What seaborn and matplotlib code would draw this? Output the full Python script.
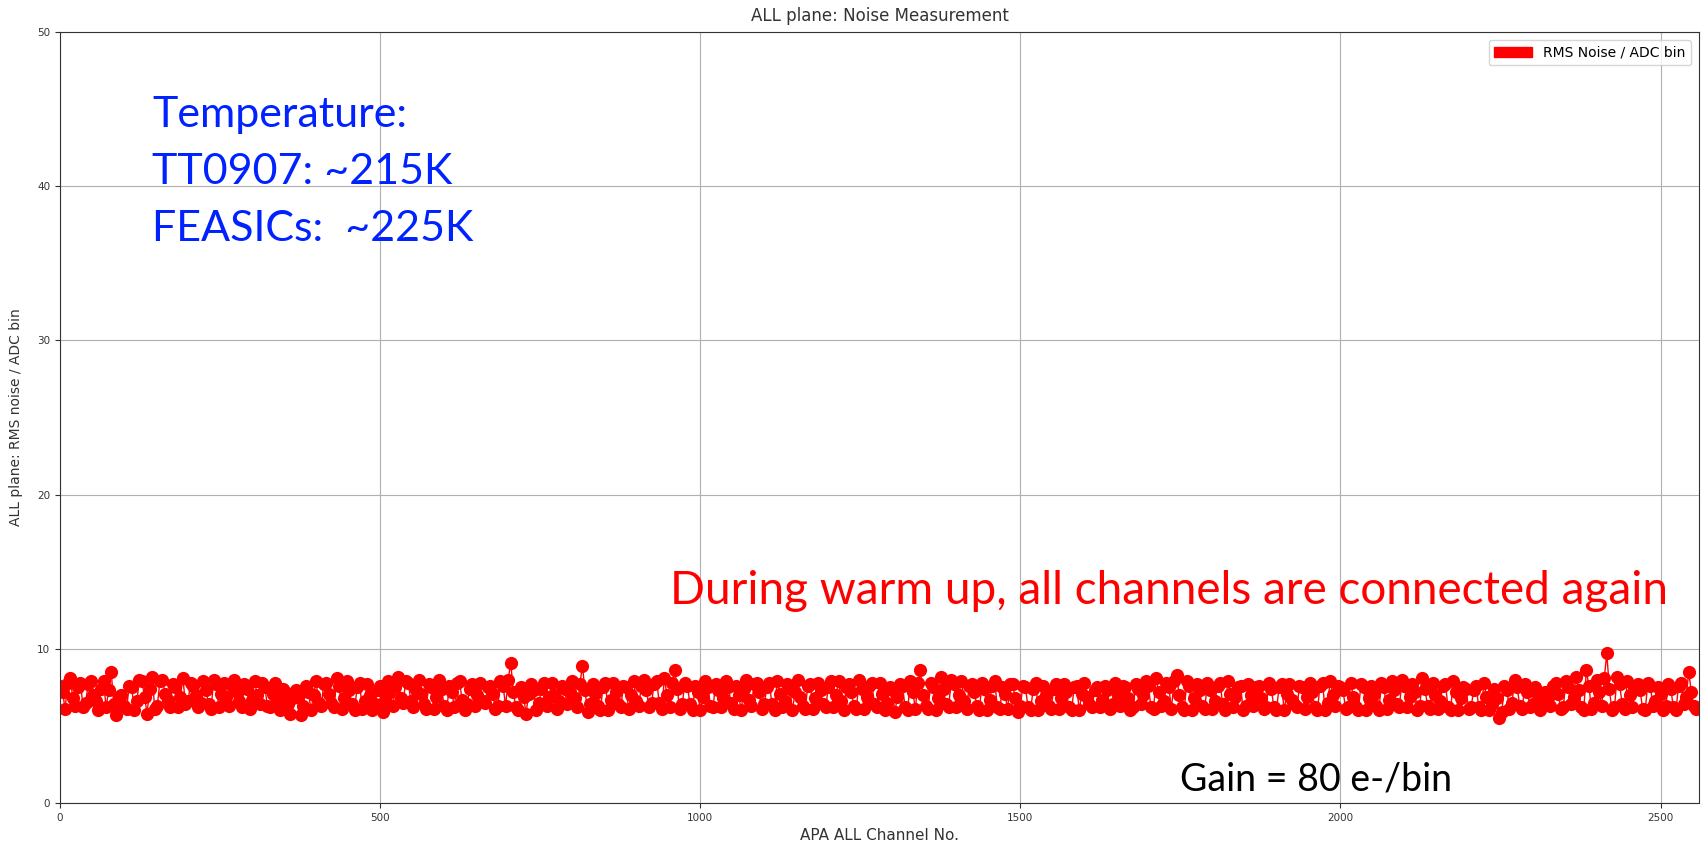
import matplotlib
matplotlib.use('Agg')
from matplotlib import pyplot as plt
from matplotlib.patches import Patch
import numpy as np
import pandas as pd
import seaborn as sns

# RMS noise per channel, every 4th channel (0 .. 2556)
noise_row0 = [7.6, 7.2, 6.1, 7.8, 8.1, 6.8, 6.3, 7.5, 7.8, 6.2, 6.5, 7.7, 7.9, 7.0, 6.6, 6.0,
              7.4, 7.9, 6.2, 7.3, 8.5, 6.4, 5.7, 6.9, 7.0, 6.3, 6.1, 7.6, 7.5, 6.0, 6.6, 8.0,
              7.9, 6.9, 5.8, 7.4, 8.2, 6.1, 6.3, 7.9, 8.0, 7.1, 6.7, 6.2, 7.7, 7.5, 6.2, 6.9,
              8.1, 6.4, 6.6, 7.8, 7.6, 7.0, 6.2, 6.5, 7.9, 7.3, 6.4, 6.1, 8.0, 7.7, 6.2, 7.1]
noise_row1 = [7.8, 6.9, 6.3, 7.6, 8.0, 7.2, 6.6, 6.2, 7.7, 7.4, 6.1, 6.7, 7.9, 7.0, 6.4, 7.8,
              7.5, 6.3, 6.2, 7.1, 7.8, 6.6, 6.0, 7.4, 7.2, 6.4, 5.8, 6.8, 7.3, 6.9, 5.7, 6.3,
              7.6, 7.2, 6.0, 7.0, 7.9, 6.5, 6.3, 7.7, 7.8, 7.1, 6.5, 6.2, 8.1, 7.6, 6.1, 6.8,
              7.9, 7.3, 6.4, 6.0, 7.5, 7.8, 6.1, 6.6, 7.7, 7.0, 6.0, 6.4, 7.3, 7.6, 5.9, 6.7]
noise_row2 = [7.9, 7.2, 6.3, 7.5, 8.2, 6.8, 6.5, 7.9, 7.8, 6.6, 6.2, 7.3, 8.0, 7.1, 6.4, 6.1,
              7.7, 7.5, 6.1, 6.9, 8.0, 7.4, 6.3, 6.0, 7.6, 7.2, 6.2, 7.8, 7.9, 6.7, 6.0, 6.4,
              7.4, 7.7, 6.3, 7.0, 7.8, 6.6, 6.5, 7.5, 7.6, 7.1, 6.1, 6.3, 7.9, 7.6, 6.3, 8.0,
              9.1, 7.2, 6.2, 6.0, 7.5, 6.9, 5.8, 7.1, 7.7, 7.3, 6.0, 6.5, 7.4, 7.8, 6.3, 6.9]
noise_row3 = [7.8, 7.0, 6.1, 6.6, 7.6, 7.4, 6.4, 7.2, 7.9, 6.8, 6.2, 7.7, 8.9, 7.3, 5.9, 6.4,
              7.7, 7.1, 6.3, 6.0, 7.5, 7.8, 6.0, 6.7, 7.8, 7.2, 6.4, 6.2, 7.6, 7.5, 6.1, 7.0,
              7.9, 6.6, 6.3, 7.6, 8.0, 7.3, 6.2, 6.5, 7.7, 7.9, 6.5, 6.1, 8.1, 7.0, 6.2, 7.8,
              8.6, 7.4, 6.1, 6.4, 7.8, 7.6, 6.4, 6.0, 7.6, 7.2, 6.0, 6.9, 7.9, 7.5, 6.3, 6.2]
noise_row4 = [7.7, 7.3, 6.2, 6.8, 7.9, 7.5, 6.5, 6.1, 7.6, 7.0, 6.0, 7.4, 8.0, 6.7, 6.3, 7.7,
              7.8, 7.2, 6.1, 6.4, 7.5, 7.8, 6.4, 6.0, 7.9, 7.1, 6.2, 6.6, 7.7, 7.4, 6.0, 7.2,
              8.0, 6.9, 6.3, 6.1, 7.6, 7.7, 6.1, 6.8, 7.8, 7.3, 6.4, 6.2, 7.5, 7.9, 6.2, 7.0,
              7.9, 6.6, 6.0, 7.5, 7.7, 7.2, 6.3, 6.1, 8.0, 7.4, 6.1, 6.9, 7.6, 7.8, 6.4, 6.2]
noise_row5 = [7.8, 7.1, 6.0, 6.5, 7.5, 7.3, 5.9, 6.9, 7.7, 7.6, 6.2, 6.0, 7.9, 7.2, 6.1, 7.8,
              8.6, 7.0, 6.3, 6.1, 7.8, 7.5, 6.0, 6.8, 8.2, 7.4, 6.4, 6.2, 8.0, 7.7, 6.2, 7.0,
              7.9, 6.6, 6.1, 7.6, 7.7, 7.2, 6.3, 6.0, 7.8, 7.4, 6.0, 6.7, 7.6, 7.9, 6.2, 6.1,
              7.5, 7.1, 6.1, 7.7, 7.7, 6.8, 5.9, 6.3, 7.6, 7.5, 6.2, 6.0, 7.4, 7.8, 6.0, 6.6]
noise_row6 = [7.6, 7.0, 6.3, 6.1, 7.4, 7.7, 6.1, 6.8, 7.7, 7.2, 6.2, 6.0, 7.5, 7.6, 6.0, 7.1,
              7.8, 6.9, 6.4, 6.2, 7.3, 7.5, 6.2, 6.7, 7.6, 7.3, 6.1, 6.4, 7.8, 7.0, 6.3, 7.6,
              7.5, 6.8, 6.0, 6.2, 7.7, 7.4, 6.4, 7.0, 7.9, 7.6, 6.2, 6.1, 8.1, 7.2, 6.3, 6.6,
              7.8, 7.5, 6.1, 7.9, 8.3, 7.0, 6.2, 6.0, 7.9, 7.6, 6.0, 6.8, 7.7, 7.3, 6.3, 6.1]
noise_row7 = [7.8, 7.3, 6.1, 6.6, 7.6, 7.8, 6.4, 6.0, 7.9, 7.1, 6.2, 6.9, 7.5, 7.6, 6.0, 6.3,
              7.7, 7.0, 6.3, 7.5, 7.6, 6.8, 6.1, 6.2, 7.8, 7.4, 6.2, 6.0, 7.5, 7.7, 6.0, 7.1,
              7.7, 6.7, 6.4, 6.2, 7.6, 7.5, 6.1, 6.9, 7.8, 7.2, 6.2, 6.0, 7.6, 7.8, 6.0, 6.5,
              7.9, 7.0, 6.3, 7.6, 7.5, 7.3, 6.1, 6.2, 7.8, 6.9, 6.2, 6.0, 7.7, 7.5, 6.0, 6.8]
noise_row8 = [7.6, 7.1, 6.3, 6.0, 7.8, 7.5, 6.1, 6.7, 7.9, 7.3, 6.4, 6.2, 8.0, 7.6, 6.2, 6.9,
              7.7, 7.2, 6.0, 6.3, 8.1, 7.4, 6.3, 6.1, 7.8, 7.0, 6.1, 6.6, 7.6, 7.7, 6.2, 6.0,
              7.9, 7.2, 6.0, 6.8, 7.5, 7.4, 6.1, 6.2, 7.3, 7.6, 6.2, 6.0, 7.8, 6.9, 6.0, 6.4,
              7.4, 6.8, 5.5, 5.9, 7.6, 7.3, 6.1, 6.5, 8.0, 7.5, 6.3, 6.1, 7.7, 7.2, 6.2, 6.4]
noise_row9 = [7.5, 7.0, 6.0, 6.4, 7.2, 6.8, 6.3, 7.6, 7.8, 7.1, 6.1, 6.2, 7.9, 7.5, 6.4, 6.9,
              8.2, 7.3, 6.2, 6.0, 8.6, 7.6, 6.1, 6.5, 8.0, 7.2, 6.3, 8.1, 9.7, 7.4, 6.0, 6.2,
              8.2, 7.7, 6.4, 6.1, 7.9, 7.0, 6.2, 7.5, 7.7, 7.3, 6.1, 6.0, 7.8, 7.6, 6.3, 6.6,
              7.5, 7.1, 6.0, 6.3, 7.7, 7.4, 6.2, 6.0, 7.6, 7.8, 6.4, 6.9, 8.5, 7.2, 6.3, 6.1]

noise = (noise_row0 + noise_row1 + noise_row2 + noise_row3 + noise_row4 +
         noise_row5 + noise_row6 + noise_row7 + noise_row8 + noise_row9)
channels = np.arange(len(noise)) * 4

temperature_lines = ['Temperature:', 'TT0907: ~215K', 'FEASICs:  ~225K']
warmup_note = 'During warm up, all channels are connected again'
gain_note = 'Gain = 80 e-/bin'

df = pd.DataFrame({'channel': channels, 'noise': noise})

fig = plt.figure(figsize=(17.03, 8.49), dpi=100)
ax = fig.add_axes([60 / 1703, 1 - 803 / 849, 1639 / 1703, 771 / 849])
sns.lineplot(data=df, x='channel', y='noise', ax=ax, color='red', marker='o',
             markersize=9.5, markeredgewidth=0, linewidth=1, sort=False)
ax.set_xlim(0, 2560)
ax.set_ylim(0, 50)
ax.grid(True, color='#b0b0b0', linewidth=0.8)
ax.tick_params(labelsize=7.5, colors='#333333')
for s in ax.spines.values():
    s.set_color('#333333')
ax.set_title('ALL plane: Noise Measurement', fontsize=12, color='#333333', pad=8)
ax.set_xlabel('APA ALL Channel No.', fontsize=11, color='#333333', labelpad=4)
ax.set_ylabel('ALL plane: RMS noise / ADC bin', fontsize=10, color='#333333', labelpad=10)
ax.legend(handles=[Patch(color='red', label='RMS Noise / ADC bin')], loc='upper right',
          fontsize=10, handlelength=2.7, borderaxespad=0.6)

for i, line in enumerate(temperature_lines):
    fig.text(152 / 1703, 1 - (127 + 57 * i) / 849, line, color='#0022ff',
             fontsize=31, family='Lato', va='baseline')
fig.text(670 / 1703, 1 - 604 / 849, warmup_note, color='red', fontsize=33,
         family='Lato', va='baseline')
fig.text(1180 / 1703, 1 - 790 / 849, gain_note, color='black', fontsize=27,
         family='Lato', va='baseline')

fig.savefig('out.png', dpi=100)
